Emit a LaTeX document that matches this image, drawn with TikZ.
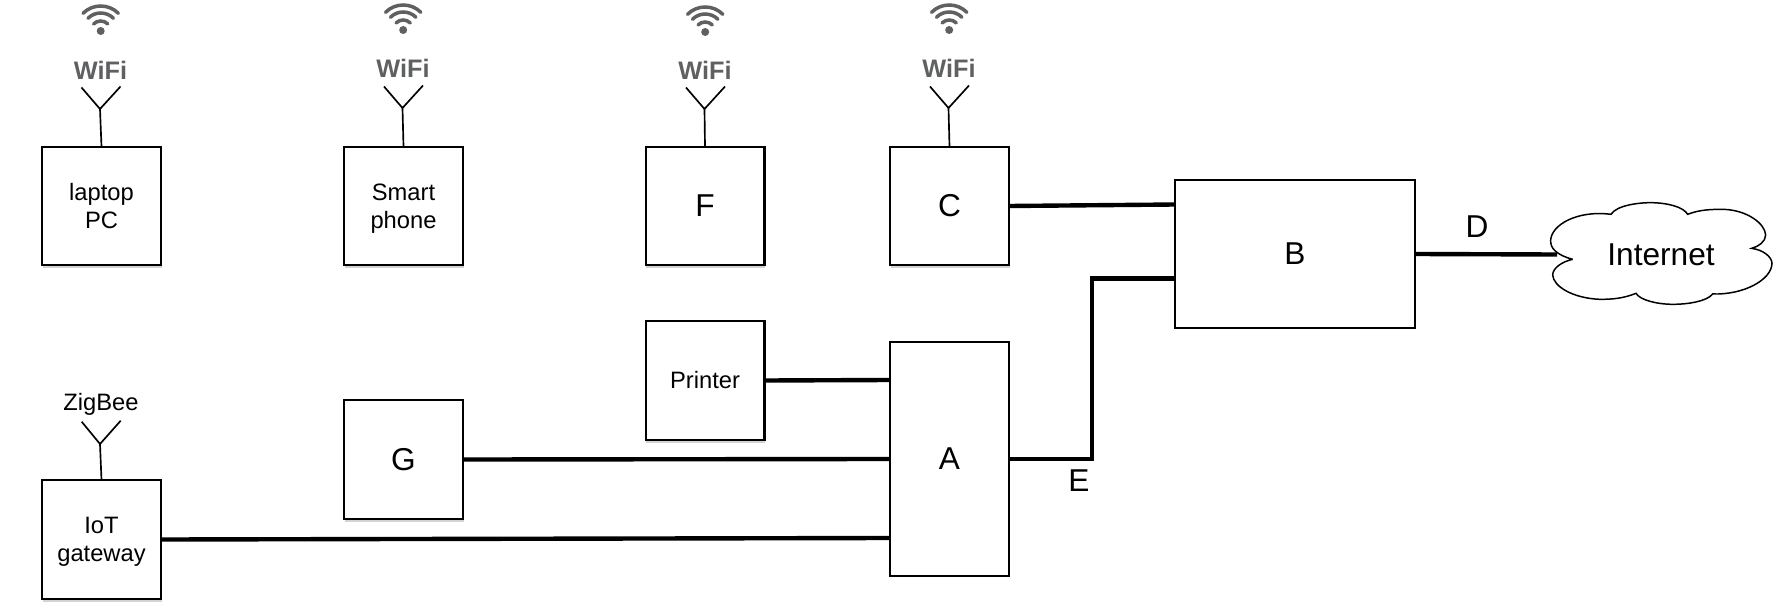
\documentclass[tikz,border=0pt]{standalone}
\usepackage{fontspec}
\setmainfont{Liberation Sans}
\usetikzlibrary{shadows}
\definecolor{wifigray}{HTML}{5F6062}
\newcommand{\nodepth}[1]{\raisebox{0pt}[\height][0pt]{#1}}
\begin{document}
\begin{tikzpicture}[x=0.02cm,y=-0.02cm]
\tikzstyle{every node}+=[inner sep=0pt,outer sep=0pt]
\tikzstyle{small}=[font=\fontsize{13.5}{15.9}\selectfont,align=center]
\tikzstyle{big}=[font=\fontsize{18}{21}\selectfont]
\tikzstyle{plainbox}=[draw,line width=1.15pt,fill=white,minimum width=2.38cm,minimum height=2.38cm]
\tikzstyle{devbox}=[plainbox,drop shadow={opacity=0.35,shadow xshift=0.3pt,shadow yshift=-1.7pt}]
\tikzstyle{antenna}=[line width=0.95pt]
\tikzstyle{wire}=[line width=2.5pt]
\tikzstyle{wifilabel}=[font=\fontsize{14.4}{17}\selectfont\bfseries,text=wifigray]
\useasboundingbox (0,0) rectangle (1782,608);
% top row
\node [devbox,small] (laptop) at (101.5,206) {laptop\\PC};
\node [devbox,small] (phone) at (403.5,206) {Smart\\\nodepth{phone}};
\node [devbox,big] (F) at (705,206) {F};
\node [devbox,big] (C) at (949.5,206) {C};
% lower row
\node [devbox,small] (printer) at (705,380.5) {Printer};
\node [devbox,big] (G) at (403.5,459.5) {G};
\node [devbox,small] (iot) at (101.5,539.5) {IoT\\\nodepth{gateway}};
\node [plainbox,big,minimum height=4.7cm] (A) at (949.5,459) {A};
\node [plainbox,big,minimum width=4.8cm,minimum height=2.96cm] (B) at (1295,254) {B};
% cloud
\begin{scope}[shift={(1500,170)},x=0.02cm/3,y=-0.02cm/3]
\draw [line width=0.85pt,fill=white] (218,268) .. controls (170,255) and (150,235) .. (152,210)
 .. controls (155,165) and (230,120) .. (333,133) .. controls (350,105) and (420,98) .. (450,98)
 .. controls (500,98) and (550,110) .. (563,133) .. controls (600,118) and (640,118) .. (670,118)
 .. controls (740,120) and (795,160) .. (797,195) .. controls (797,215) and (775,230) .. (755,235)
 .. controls (790,240) and (815,260) .. (816,280) .. controls (815,330) and (730,375) .. (638,372)
 .. controls (620,395) and (560,403) .. (520,403) .. controls (470,403) and (420,390) .. (408,370)
 .. controls (370,385) and (340,388) .. (300,388) .. controls (220,385) and (160,350) .. (158,315)
 .. controls (158,295) and (185,275) .. (218,268);
\end{scope}
\node [big,minimum width=4.16cm] (internet) at (1661,254.5) {Internet};
% antennas
\foreach \dev/\xa/\ya/\ib/\yb/\yc in {laptop/100/109/wa/70/31,phone/402.5/108/wb/68.5/30,F/704.5/109/wc/70/32,C/948.5/108/wd/68.5/30} {
  \coordinate (\dev top) at (\xa,\ya);
  \coordinate (\dev left) at (\xa-18.5,\ya-21.5);
  \coordinate (\dev right) at (\xa+20.5,\ya-22.5);
  \draw [antenna] (\dev.north) -- (\dev top);
  \draw [antenna] (\dev left) -- (\dev top) -- (\dev right);
  \node [wifilabel] (\ib) at (\xa+0.5,\yb) {WiFi};
  \coordinate (\ib dot) at (\xa+0.7,\yc);
  \fill [wifigray] (\ib dot) circle (4);
  \foreach \r in {10,18,25}
    \draw [wifigray,line width=2pt,line cap=round] ([shift={(225:\r)}]\ib dot) arc (225:315:\r);
}
\coordinate (iottop) at (100,444);
\coordinate (iotleft) at (81.7,421.7);
\coordinate (iotright) at (120.7,420.7);
\draw [antenna] (iot.north) -- (iottop);
\draw [antenna] (iotleft) -- (iottop) -- (iotright);
\node [small] (zigbee) at (101,404.5) {ZigBee};
% wires
\coordinate (Bc) at (1175,204.5);
\coordinate (Bd) at (1175,278.5);
\coordinate (Ae) at (1092,459);
\coordinate (Af) at (1092,278.5);
\coordinate (Ap) at (890,380);
\coordinate (Ai) at (890,538);
\draw [wire] (C.east) -- (Bc);
\draw [wire] (A.east) -- (Ae) -- (Af) -- (Bd);
\draw [wire] (printer.east) -- (Ap);
\draw [wire] (G.east) -- (A.west);
\draw [wire] (iot.east) -- (Ai);
\draw [wire] (B.east) -- (internet.west);
\node [big] (labelD) at (1477,227) {D};
\node [big] (labelE) at (1079,481) {E};
\end{tikzpicture}
\end{document}
